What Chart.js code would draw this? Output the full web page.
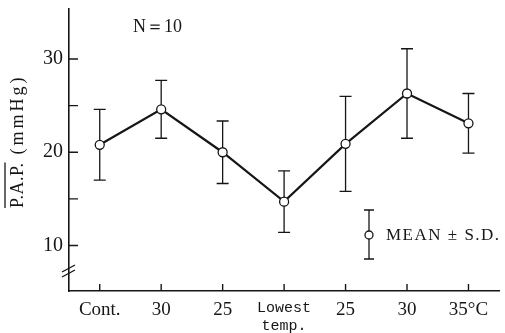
<!DOCTYPE html>
<html>
<head>
<meta charset="utf-8">
<script src="https://cdn.jsdelivr.net/npm/chart.js@4.4.0/dist/chart.umd.min.js"></script>
<style>
    html, body { margin: 0; padding: 0; background: #ffffff; }
    #wrap { width: 505px; height: 333px; position: relative; }
</style>
</head>
<body>
<div id="wrap"><canvas id="papChart"></canvas></div>
<script>
// Data
const categories = ['Cont.', '30', '25', ['Lowest', 'temp.'], '25', '30', '35°C'];
const meanPAP = [20.8, 24.6, 20.0, 14.7, 20.9, 26.3, 23.1];
const sdPAP = [3.8, 3.1, 3.35, 3.3, 5.1, 4.8, 3.2];
const yTickValues = [10, 15, 20, 25, 30];
const yTickLabels = { 10: '10', 20: '20', 30: '30' };

const INK = '#161616';
const SERIF = '"Liberation Serif", "DejaVu Serif", serif';

// Error bars, tick marks, axis break and the annotations
const paperPlugin = {
    id: 'paperPlugin',
    beforeDatasetsDraw(chart) {
        const ctx = chart.ctx;
        const xs = chart.scales.x;
        const ys = chart.scales.y;
        ctx.save();
        ctx.strokeStyle = INK;
        ctx.lineWidth = 1.3;
        meanPAP.forEach((m, i) => {
            const x = xs.getPixelForValue(i);
            const yTop = ys.getPixelForValue(m + sdPAP[i]);
            const yBot = ys.getPixelForValue(m - sdPAP[i]);
            ctx.beginPath();
            ctx.moveTo(x, yTop);
            ctx.lineTo(x, yBot);
            ctx.moveTo(x - 6, yTop);
            ctx.lineTo(x + 6, yTop);
            ctx.moveTo(x - 6, yBot);
            ctx.lineTo(x + 6, yBot);
            ctx.stroke();
        });
        ctx.restore();
    },
    afterDraw(chart) {
        const ctx = chart.ctx;
        const xs = chart.scales.x;
        const ys = chart.scales.y;
        const area = chart.chartArea;
        ctx.save();
        ctx.strokeStyle = INK;
        ctx.fillStyle = INK;
        ctx.lineWidth = 1.4;

        // inward tick marks
        ctx.beginPath();
        yTickValues.forEach(v => {
            const y = ys.getPixelForValue(v);
            ctx.moveTo(area.left, y);
            ctx.lineTo(area.left + 9, y);
        });
        categories.forEach((c, i) => {
            const x = xs.getPixelForValue(i);
            ctx.moveTo(x, area.bottom);
            ctx.lineTo(x, area.bottom - 7);
        });
        ctx.stroke();

        // axis break
        const by = area.bottom - 22;
        ctx.lineWidth = 1.3;
        ctx.beginPath();
        ctx.moveTo(area.left - 7, by + 3);
        ctx.lineTo(area.left + 6, by - 4);
        ctx.moveTo(area.left - 7, by + 8);
        ctx.lineTo(area.left + 6, by + 1);
        ctx.stroke();

        // y axis title with bar over P.A.P.
        ctx.translate(18, 208);
        ctx.rotate(-Math.PI / 2);
        ctx.font = '18px ' + SERIF;
        ctx.textBaseline = 'middle';
        ctx.textAlign = 'left';
        ctx.letterSpacing = '0.5px';
        const papW = ctx.measureText('P.A.P.').width;
        ctx.fillText('P.A.P.', 0, 0);
        ctx.lineWidth = 1.3;
        ctx.beginPath();
        ctx.moveTo(0, -13);
        ctx.lineTo(papW, -13);
        ctx.stroke();
        ctx.letterSpacing = '3px';
        ctx.fillText('(mmHg)', papW + 8, 0);
        ctx.setTransform(1, 0, 0, 1, 0, 0);
        ctx.letterSpacing = '0px';

        // N = 10
        ctx.font = '18px ' + SERIF;
        ctx.textBaseline = 'middle';
        ctx.textAlign = 'left';
        ctx.fillText('N＝10', 133, 27);

        // legend key
        const lx = 369;
        ctx.lineWidth = 1.3;
        ctx.beginPath();
        ctx.moveTo(lx, 210);
        ctx.lineTo(lx, 259);
        ctx.moveTo(lx - 5, 210);
        ctx.lineTo(lx + 5, 210);
        ctx.moveTo(lx - 5, 259);
        ctx.lineTo(lx + 5, 259);
        ctx.stroke();
        ctx.beginPath();
        ctx.arc(lx, 235, 4, 0, Math.PI * 2);
        ctx.fillStyle = '#ffffff';
        ctx.fill();
        ctx.stroke();
        ctx.fillStyle = INK;
        ctx.font = '17px ' + SERIF;
        ctx.letterSpacing = '1.5px';
        ctx.fillText('MEAN ± S.D.', 386, 236);
        ctx.restore();
    }
};

const chart = new Chart(document.getElementById('papChart'), {
    type: 'line',
    data: {
        labels: categories,
        datasets: [{
            data: meanPAP,
            borderColor: INK,
            borderWidth: 2.2,
            tension: 0,
            pointRadius: 4.5,
            pointBorderWidth: 1.3,
            pointBackgroundColor: '#ffffff',
            pointBorderColor: INK
        }]
    },
    options: {
        responsive: true,
        maintainAspectRatio: false,
        animation: false,
        layout: {
            padding: { top: 9, right: 2, left: 0, bottom: 0 }
        },
        plugins: {
            legend: { display: false },
            tooltip: { enabled: false }
        },
        scales: {
            x: {
                type: 'category',
                offset: true,
                grid: { display: false, drawTicks: false },
                border: { display: true, color: INK, width: 1.6 },
                ticks: {
                    color: INK,
                    padding: 8,
                    maxRotation: 0,
                    autoSkip: false,
                    font: function(context) {
                        if (context.index === 3) {
                            return { family: '"Liberation Mono", monospace', size: 15, lineHeight: 1.2 };
                        }
                        return { family: SERIF, size: 19 };
                    }
                },
                afterFit: function(scale) {
                    scale.height = 42;
                    scale.paddingLeft = 0;
                    scale.paddingRight = 0;
                }
            },
            y: {
                min: 5.12,
                max: 35.36,
                grid: { display: false, drawTicks: false },
                border: { display: true, color: INK, width: 1.6 },
                afterBuildTicks: function(scale) {
                    scale.ticks = yTickValues.map(v => ({ value: v }));
                },
                ticks: {
                    color: INK,
                    padding: 6,
                    font: { family: SERIF, size: 20 },
                    callback: function(value) {
                        return yTickLabels[value] || '';
                    }
                },
                afterFit: function(scale) {
                    scale.width = 69;
                    scale.paddingTop = 0;
                    scale.paddingBottom = 0;
                }
            }
        }
    },
    plugins: [paperPlugin]
});
</script>
</body>
</html>
